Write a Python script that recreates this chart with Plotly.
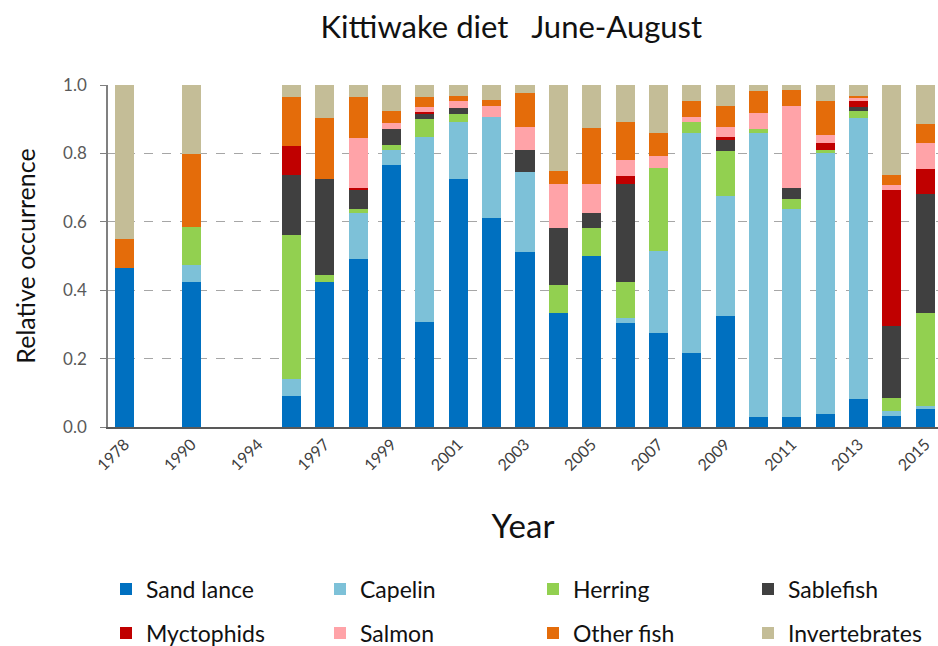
import plotly.graph_objects as go

years = ["1978", "1989", "1990", "1992", "1994", "1996", "1997", "1998", "1999", "2000",
         "2001", "2002", "2003", "2004", "2005", "2006", "2007", "2008", "2009", "2010",
         "2011", "2012", "2013", "2014", "2015"]
tick_labels = ["1978", "1990", "1994", "1997", "1999", "2001", "2003", "2005", "2007",
               "2009", "2011", "2013", "2015"]

N = None
sand_lance    = [0.466, N, 0.424, N, N, 0.090, 0.424, 0.490, 0.767, 0.306, 0.724, 0.610, 0.511, 0.332, 0.500, 0.304, 0.275, 0.215, 0.324, 0.028, 0.028, 0.037, 0.081, 0.032, 0.053]
capelin       = [0.0,   N, 0.050, N, N, 0.049, 0.0,   0.136, 0.043, 0.541, 0.169, 0.296, 0.234, 0.0,   0.0,   0.015, 0.241, 0.646, 0.352, 0.831, 0.609, 0.765, 0.823, 0.014, 0.007]
herring       = [0.0,   N, 0.111, N, N, 0.423, 0.021, 0.010, 0.015, 0.054, 0.021, 0.0,   0.0,   0.083, 0.083, 0.104, 0.241, 0.031, 0.131, 0.012, 0.029, 0.009, 0.020, 0.039, 0.274]
sablefish     = [0.0,   N, 0.0,   N, N, 0.175, 0.279, 0.057, 0.045, 0.013, 0.018, 0.0,   0.065, 0.168, 0.042, 0.288, 0.0,   0.0,   0.031, 0.0,   0.032, 0.0,   0.013, 0.210, 0.346]
myctophids    = [0.0,   N, 0.0,   N, N, 0.086, 0.0,   0.005, 0.0,   0.006, 0.0,   0.0,   0.0,   0.0,   0.0,   0.022, 0.0,   0.0,   0.009, 0.0,   0.0,   0.020, 0.016, 0.398, 0.073]
salmon        = [0.0,   N, 0.0,   N, N, 0.0,   0.0,   0.147, 0.018, 0.015, 0.021, 0.034, 0.066, 0.127, 0.085, 0.047, 0.036, 0.014, 0.029, 0.048, 0.242, 0.023, 0.008, 0.016, 0.078]
other_fish    = [0.083, N, 0.214, N, N, 0.141, 0.180, 0.119, 0.035, 0.029, 0.014, 0.016, 0.100, 0.038, 0.165, 0.113, 0.068, 0.047, 0.064, 0.063, 0.044, 0.099, 0.007, 0.028, 0.055]
invertebrates = [0.451, N, 0.201, N, N, 0.036, 0.096, 0.036, 0.077, 0.036, 0.033, 0.044, 0.024, 0.252, 0.125, 0.107, 0.139, 0.047, 0.060, 0.018, 0.016, 0.047, 0.032, 0.263, 0.114]

series_names = ["Sand lance", "Capelin", "Herring", "Sablefish",
                "Myctophids", "Salmon", "Other fish", "Invertebrates"]
series_values = [sand_lance, capelin, herring, sablefish,
                 myctophids, salmon, other_fish, invertebrates]
series_colors = ["#0070C0", "#7DC1D8", "#92D050", "#404040",
                 "#C00000", "#FFA3A8", "#E46C0A", "#C4BD97"]

# legend grid: 4 columns x 2 rows (pixel positions in the 938x646 canvas)
W, H = 938, 646
col_px = [106, 320, 533, 748]
row_px = [589, 633]

FONT = "Lato"
fig = go.Figure()
legends = {}
for i, (name, vals, color) in enumerate(zip(series_names, series_values, series_colors)):
    key = f"legend{i + 2}"
    fig.add_trace(go.Bar(x=years, y=vals, name=name,
                         marker=dict(color=color, line=dict(width=0)), legend=key))
    legends[key] = dict(orientation="h", xref="container", yref="container",
                        x=col_px[i % 4] / W, y=1 - row_px[i // 4] / H,
                        xanchor="left", yanchor="middle", itemwidth=30,
                        font=dict(family=FONT, size=23, color="#111111"),
                        bgcolor="rgba(0,0,0,0)")

fig.update_layout(
    barmode="stack",
    bargap=0.43,
    width=W, height=H,
    margin=dict(l=108, r=0, t=85, b=219),
    paper_bgcolor="white", plot_bgcolor="white",
    font=dict(family=FONT, color="#404040"),
    title=dict(text="Kittiwake diet   June-August", x=0.486, xanchor="center", y=0.958, yanchor="middle",
               xref="paper", yref="container",
               font=dict(family=FONT, size=31, color="#111111")),
    **legends,
)
fig.update_xaxes(
    type="category", categoryorder="array", categoryarray=years,
    range=[-0.5, 24.38],
    tickmode="array", tickvals=tick_labels, ticktext=tick_labels,
    tickangle=-45, tickfont=dict(family=FONT, size=16, color="#404040"),
    showline=True, linecolor="#595959", linewidth=1.5,
    ticks="", showgrid=False, automargin=False,
    title=dict(text="Year", font=dict(family=FONT, size=33, color="#111111"), standoff=42),
)
fig.update_yaxes(
    range=[0, 1.0], tickvals=[0, 0.2, 0.4, 0.6, 0.8, 1.0], tickformat=".1f",
    tickfont=dict(family=FONT, size=17, color="#595959"), ticklabelstandoff=10,
    showline=True, linecolor="#808080", linewidth=1.5,
    ticks="outside", ticklen=6, tickcolor="#808080",
    showgrid=True, gridcolor="#A6A6A6", griddash="dash", gridwidth=1,
    zeroline=False, automargin=False,
    title=dict(text="Relative occurrence", font=dict(family=FONT, size=25, color="#111111"), standoff=20),
)

fig.write_html("out.html", config={"displayModeBar": False},
               post_script="document.body.style.margin='0';document.body.style.padding='0';")
